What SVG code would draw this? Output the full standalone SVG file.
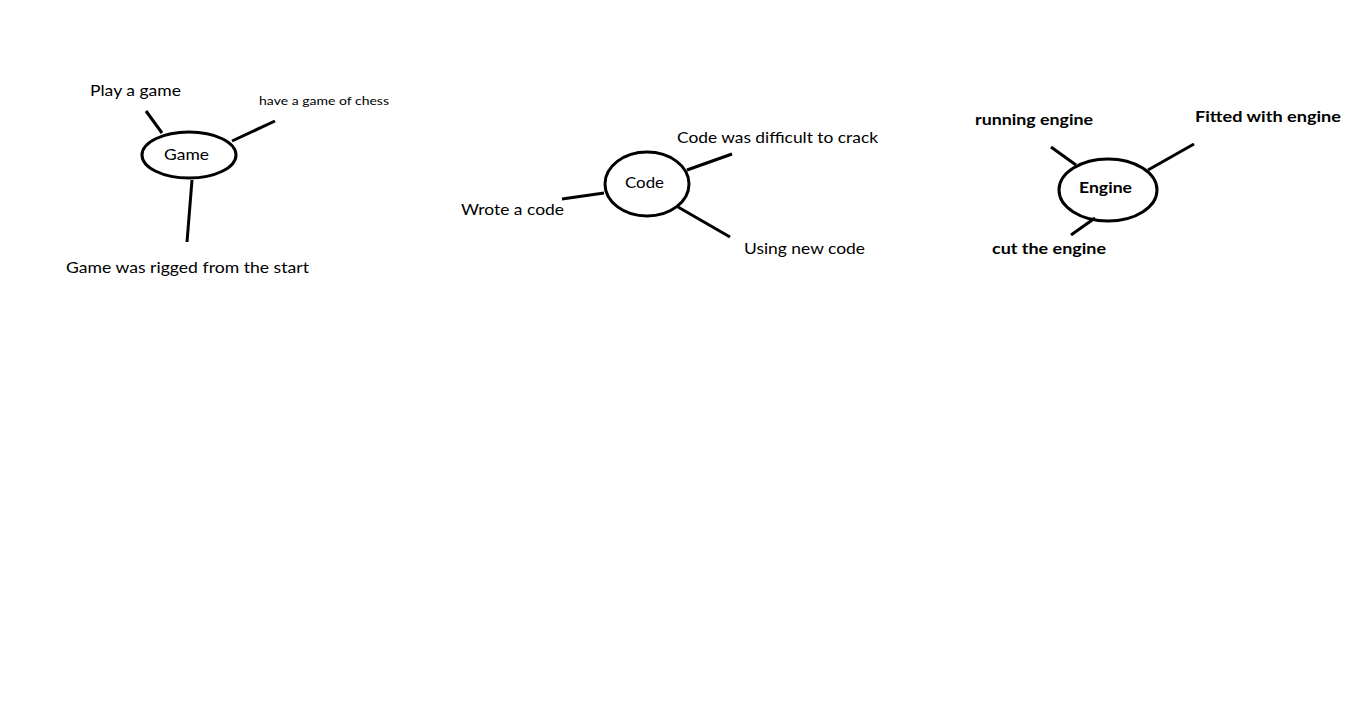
<svg xmlns="http://www.w3.org/2000/svg" width="1369" height="709" viewBox="0 0 1369 709">
<style>
.n{fill:none;stroke:#000;stroke-width:3}
.c line{stroke:#000;stroke-width:3;stroke-linecap:butt}
text{font-family:Lato,"Open Sans","Liberation Sans",sans-serif;font-size:16px;fill:#000}
.s{font-size:12px}
.b{font-weight:bold}
</style>
<rect width="1369" height="709" fill="#fff"/>
<g class="c" id="connectors">
<line x1="146" y1="111" x2="162" y2="133"/>
<line x1="275" y1="121" x2="232" y2="141"/>
<line x1="192" y1="180" x2="187" y2="242"/>
<line x1="687" y1="170" x2="732" y2="154"/>
<line x1="562" y1="199" x2="604" y2="193"/>
<line x1="678" y1="207" x2="730" y2="237"/>
<line x1="1051" y1="147" x2="1076" y2="165"/>
<line x1="1194" y1="144" x2="1148" y2="170"/>
<line x1="1095" y1="218" x2="1071" y2="235"/>
</g>
<g id="game">
<ellipse class="n" cx="189" cy="155" rx="47" ry="23"/>
<text x="164" y="160" textLength="45" lengthAdjust="spacingAndGlyphs">Game</text>
</g>
<g id="play"><text x="90" y="96" textLength="91" lengthAdjust="spacingAndGlyphs">Play a game</text></g>
<g id="chess"><text class="s" x="259" y="105" textLength="130" lengthAdjust="spacingAndGlyphs">have a game of chess</text></g>
<g id="rigged"><text x="66" y="273" textLength="243" lengthAdjust="spacingAndGlyphs">Game was rigged from the start</text></g>
<g id="code">
<ellipse class="n" cx="647" cy="184" rx="42" ry="32"/>
<text x="625" y="188" textLength="39" lengthAdjust="spacingAndGlyphs">Code</text>
</g>
<g id="crack"><text x="677" y="143" textLength="201" lengthAdjust="spacingAndGlyphs">Code was difficult to crack</text></g>
<g id="wrote"><text x="461" y="215" textLength="103" lengthAdjust="spacingAndGlyphs">Wrote a code</text></g>
<g id="using"><text x="744" y="254" textLength="121" lengthAdjust="spacingAndGlyphs">Using new code</text></g>
<g id="engine">
<ellipse class="n" cx="1108" cy="190" rx="49" ry="31"/>
<text class="b" x="1079" y="193" textLength="53" lengthAdjust="spacingAndGlyphs">Engine</text>
</g>
<g id="running"><text class="b" x="975" y="125" textLength="118" lengthAdjust="spacingAndGlyphs">running engine</text></g>
<g id="fitted"><text class="b" x="1195" y="122" textLength="146" lengthAdjust="spacingAndGlyphs">Fitted with engine</text></g>
<g id="cut"><text class="b" x="992" y="254" textLength="114" lengthAdjust="spacingAndGlyphs">cut the engine</text></g>
</svg>
